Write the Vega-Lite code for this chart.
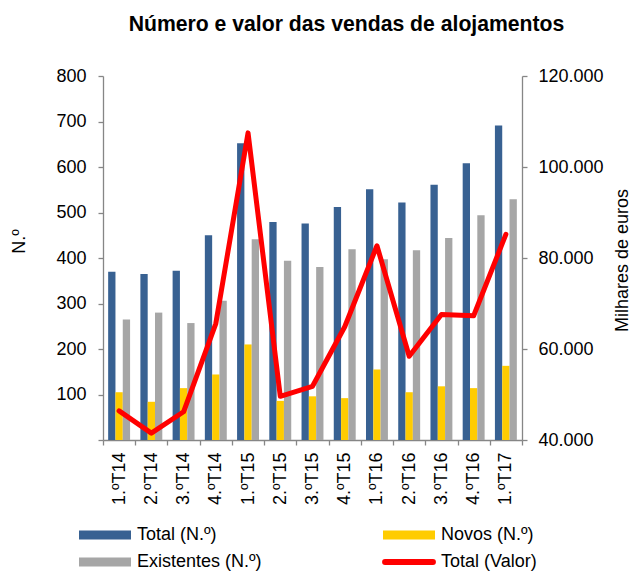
{
  "$schema": "https://vega.github.io/schema/vega-lite/v6.json",
  "width": 419,
  "height": 364,
  "autosize": {"type": "none"},
  "padding": {"left": 103, "top": 76, "right": 109, "bottom": 131},
  "background": "white",
  "config": {
    "font": "Liberation Sans",
    "view": {"stroke": null},
    "axis": {
      "labelFont": "Liberation Sans",
      "labelFontSize": 18,
      "labelColor": "#000000",
      "titleFont": "Liberation Sans",
      "titleFontSize": 18,
      "titleFontWeight": "normal",
      "titleColor": "#000000",
      "domainColor": "#868686",
      "tickColor": "#868686",
      "domainWidth": 1.3,
      "tickWidth": 1.3,
      "tickSize": 5,
      "grid": false
    }
  },
  "title": {
    "text": "Número e valor das vendas de alojamentos",
    "font": "Liberation Sans",
    "fontSize": 21.2,
    "fontWeight": "bold",
    "color": "#000000",
    "anchor": "middle",
    "dx": 34,
    "offset": 32
  },
  "datasets": {
    "bars": [
      {"q": "1.ºT14", "serie": "Total (N.º)", "n": 370},
      {"q": "1.ºT14", "serie": "Novos (N.º)", "n": 105},
      {"q": "1.ºT14", "serie": "Existentes (N.º)", "n": 265},
      {"q": "2.ºT14", "serie": "Total (N.º)", "n": 365},
      {"q": "2.ºT14", "serie": "Novos (N.º)", "n": 84},
      {"q": "2.ºT14", "serie": "Existentes (N.º)", "n": 280},
      {"q": "3.ºT14", "serie": "Total (N.º)", "n": 372},
      {"q": "3.ºT14", "serie": "Novos (N.º)", "n": 114},
      {"q": "3.ºT14", "serie": "Existentes (N.º)", "n": 257},
      {"q": "4.ºT14", "serie": "Total (N.º)", "n": 450},
      {"q": "4.ºT14", "serie": "Novos (N.º)", "n": 144},
      {"q": "4.ºT14", "serie": "Existentes (N.º)", "n": 306},
      {"q": "1.ºT15", "serie": "Total (N.º)", "n": 652},
      {"q": "1.ºT15", "serie": "Novos (N.º)", "n": 210},
      {"q": "1.ºT15", "serie": "Existentes (N.º)", "n": 441},
      {"q": "2.ºT15", "serie": "Total (N.º)", "n": 479},
      {"q": "2.ºT15", "serie": "Novos (N.º)", "n": 86},
      {"q": "2.ºT15", "serie": "Existentes (N.º)", "n": 394},
      {"q": "3.ºT15", "serie": "Total (N.º)", "n": 476},
      {"q": "3.ºT15", "serie": "Novos (N.º)", "n": 96},
      {"q": "3.ºT15", "serie": "Existentes (N.º)", "n": 380},
      {"q": "4.ºT15", "serie": "Total (N.º)", "n": 512},
      {"q": "4.ºT15", "serie": "Novos (N.º)", "n": 92},
      {"q": "4.ºT15", "serie": "Existentes (N.º)", "n": 419},
      {"q": "1.ºT16", "serie": "Total (N.º)", "n": 551},
      {"q": "1.ºT16", "serie": "Novos (N.º)", "n": 155},
      {"q": "1.ºT16", "serie": "Existentes (N.º)", "n": 397},
      {"q": "2.ºT16", "serie": "Total (N.º)", "n": 522},
      {"q": "2.ºT16", "serie": "Novos (N.º)", "n": 105},
      {"q": "2.ºT16", "serie": "Existentes (N.º)", "n": 417},
      {"q": "3.ºT16", "serie": "Total (N.º)", "n": 561},
      {"q": "3.ºT16", "serie": "Novos (N.º)", "n": 118},
      {"q": "3.ºT16", "serie": "Existentes (N.º)", "n": 444},
      {"q": "4.ºT16", "serie": "Total (N.º)", "n": 608},
      {"q": "4.ºT16", "serie": "Novos (N.º)", "n": 114},
      {"q": "4.ºT16", "serie": "Existentes (N.º)", "n": 494},
      {"q": "1.ºT17", "serie": "Total (N.º)", "n": 691},
      {"q": "1.ºT17", "serie": "Novos (N.º)", "n": 163},
      {"q": "1.ºT17", "serie": "Existentes (N.º)", "n": 529}
    ],
    "valor": [
      {"q": "1.ºT14", "valor": 46400},
      {"q": "2.ºT14", "valor": 41500},
      {"q": "3.ºT14", "valor": 46200},
      {"q": "4.ºT14", "valor": 65600},
      {"q": "1.ºT15", "valor": 107500},
      {"q": "2.ºT15", "valor": 49600},
      {"q": "3.ºT15", "valor": 51800},
      {"q": "4.ºT15", "valor": 64900},
      {"q": "1.ºT16", "valor": 82700},
      {"q": "2.ºT16", "valor": 58400},
      {"q": "3.ºT16", "valor": 67600},
      {"q": "4.ºT16", "valor": 67300},
      {"q": "1.ºT17", "valor": 85200}
    ]
  },
  "layer": [
    {
      "data": {"name": "bars"},
      "mark": {"type": "bar"},
      "encoding": {
        "x": {
          "field": "q",
          "type": "nominal",
          "sort": null,
          "scale": {"paddingInner": 0, "paddingOuter": 0},
          "axis": {
            "title": null,
            "labelAngle": -90,
            "labelPadding": 7,
            "tickBand": "extent"
          }
        },
        "xOffset": {
          "field": "serie",
          "type": "nominal",
          "scale": {
            "domain": ["Total (N.º)", "Novos (N.º)", "Existentes (N.º)"],
            "paddingInner": 0,
            "paddingOuter": 0.705
          }
        },
        "y": {
          "field": "n",
          "type": "quantitative",
          "scale": {"domain": [0, 800], "nice": false},
          "axis": {
            "title": "N.º",
            "values": [0, 100, 200, 300, 400, 500, 600, 700, 800],
            "labelExpr": "datum.value === 0 ? '' : datum.label",
            "labelPadding": 12,
            "titleX": -84,
            "titleY": 165,
            "titleAngle": 270,
            "titleBaseline": "middle",
            "titleAlign": "center"
          }
        },
        "color": {
          "field": "serie",
          "type": "nominal",
          "scale": {
            "domain": ["Total (N.º)", "Novos (N.º)", "Existentes (N.º)", "Total (Valor)"],
            "range": ["#386192", "#FFCC00", "#A6A6A6", "#FF0000"]
          },
          "legend": {
            "title": null,
            "orient": "none",
            "direction": "horizontal",
            "legendX": -7,
            "legendY": 450,
            "columns": 2,
            "columnPadding": 111,
            "rowPadding": 6,
            "padding": 0,
            "labelFont": "Liberation Sans",
            "labelFontSize": 18,
            "labelColor": "#000000",
            "labelOffset": 23,
            "labelLimit": 300,
            "symbolSize": 2704,
            "symbolType": "M-1,-0.173H1V0.173H-1Z",
            "symbolStrokeWidth": 0,
            "symbolOpacity": 1,
            "encode": {
              "symbols": {
                "update": {
                  "shape": {"signal": "datum.value === 'Total (Valor)' ? 'M-0.92,0H0.92' : 'M-1,-0.173H1V0.173H-1Z'"},
                  "stroke": {"signal": "datum.value === 'Total (Valor)' ? '#FF0000' : 'transparent'"},
                  "strokeWidth": {"signal": "datum.value === 'Total (Valor)' ? 6 : 0"},
                  "strokeCap": {"value": "round"}
                }
              }
            }
          }
        }
      }
    },
    {
      "data": {"name": "valor"},
      "mark": {"type": "line", "strokeWidth": 5, "strokeJoin": "round", "strokeCap": "round"},
      "encoding": {
        "x": {"field": "q", "type": "nominal", "sort": null},
        "y": {
          "field": "valor",
          "type": "quantitative",
          "scale": {"domain": [40000, 120000], "nice": false, "zero": false},
          "axis": {
            "orient": "right",
            "title": "Milhares de euros",
            "values": [40000, 60000, 80000, 100000, 120000],
            "labelExpr": "replace(format(datum.value, ','), ',', '.')",
            "labelPadding": 11,
            "titleX": 105,
            "titleY": 184,
            "titleAngle": 270,
            "titleBaseline": "alphabetic",
            "titleAlign": "center"
          }
        },
        "color": {"datum": "Total (Valor)", "type": "nominal"}
      }
    }
  ],
  "resolve": {"scale": {"y": "independent"}}
}
